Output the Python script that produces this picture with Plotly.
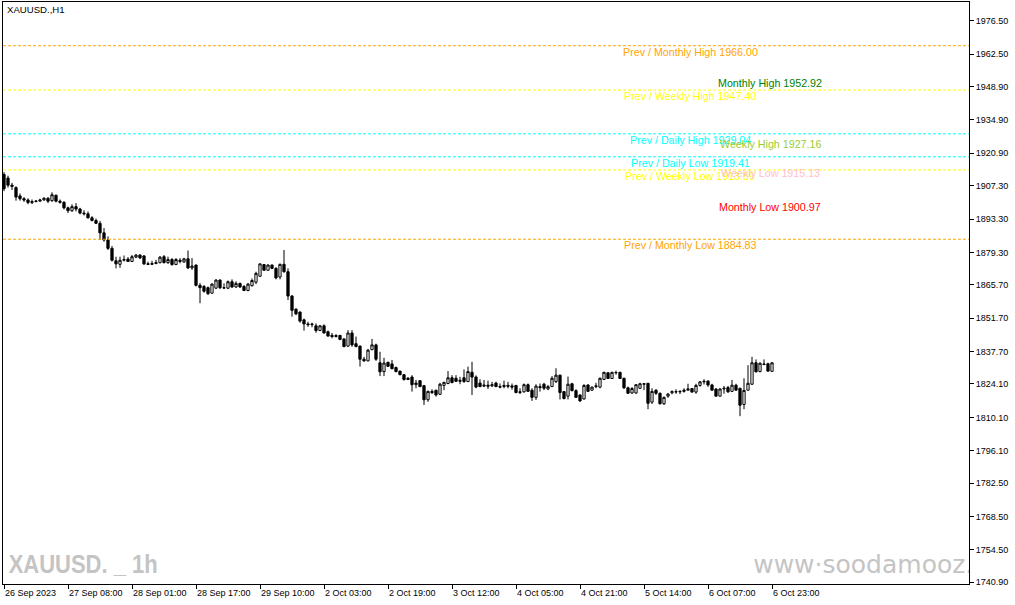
import plotly.graph_objects as go

# ---------------- data ----------------
opens = [1912.0, 1910.5, 1907.5, 1906.5, 1903.0, 1901.8, 1901.3, 1900.2, 1900.6, 1900.8,
         1901.3, 1902.0, 1901.0, 1903.3, 1900.8, 1900.3, 1898.0, 1896.8, 1898.5, 1897.5,
         1895.8, 1895.5, 1893.8, 1892.7, 1891.5, 1887.5, 1884.5, 1881.0, 1875.8, 1874.3,
         1876.0, 1876.5, 1875.5, 1877.3, 1878.2, 1877.8, 1874.5, 1874.3, 1874.6, 1875.0,
         1877.5, 1875.0, 1876.3, 1874.2, 1876.0, 1875.3, 1876.6, 1872.8, 1874.0, 1865.5,
         1865.0, 1864.5, 1862.2, 1864.3, 1867.7, 1864.5, 1864.3, 1867.0, 1864.8, 1866.3,
         1865.0, 1863.3, 1865.3, 1866.8, 1869.3, 1874.2, 1871.8, 1874.0, 1872.6, 1869.0,
         1874.3, 1871.2, 1861.0, 1855.5, 1854.3, 1851.0, 1849.3, 1849.0, 1848.5, 1846.5,
         1848.5, 1846.0, 1844.5, 1844.0, 1844.5, 1843.0, 1840.0, 1845.5, 1841.0, 1840.0,
         1834.5, 1833.8, 1838.5, 1840.5, 1833.0, 1829.3, 1833.2, 1832.5, 1831.0, 1829.5,
         1828.0, 1826.5, 1827.0, 1823.8, 1825.5, 1823.4, 1817.5, 1821.0, 1821.5, 1819.8,
         1823.5, 1824.3, 1826.7, 1826.5, 1825.2, 1826.7, 1825.1, 1829.0, 1827.0, 1824.5,
         1823.2, 1823.6, 1823.3, 1824.5, 1823.0, 1823.0, 1823.5, 1823.3, 1823.5, 1820.5,
         1820.8, 1823.8, 1821.5, 1818.5, 1823.0, 1824.0, 1822.0, 1823.0, 1825.1, 1827.8,
         1820.9, 1819.0, 1824.2, 1821.3, 1819.5, 1817.8, 1823.7, 1821.5, 1823.0, 1822.8,
         1826.0, 1828.8, 1826.4, 1828.8, 1829.0, 1826.5, 1822.5, 1820.3, 1820.3, 1822.3,
         1824.0, 1824.4, 1816.5, 1821.5, 1820.2, 1815.8, 1819.0, 1820.4, 1820.9, 1820.8,
         1821.0, 1821.5, 1822.2, 1820.7, 1823.5, 1825.0, 1825.3, 1823.7, 1822.0, 1819.0,
         1822.0, 1822.6, 1821.0, 1823.6, 1822.3, 1815.5, 1821.5, 1824.0, 1833.0, 1829.3,
         1832.5, 1832.6, 1829.4]
highs = [1913.0, 1911.5, 1908.5, 1907.0, 1904.0, 1902.5, 1902.0, 1901.5, 1901.3, 1901.8,
         1902.5, 1902.5, 1904.5, 1903.5, 1901.5, 1900.8, 1898.5, 1899.5, 1900.0, 1898.0,
         1897.0, 1896.5, 1894.5, 1893.5, 1892.5, 1889.5, 1886.0, 1882.0, 1877.5, 1877.5,
         1878.0, 1877.3, 1878.2, 1878.6, 1878.5, 1878.2, 1875.4, 1875.8, 1876.2, 1877.8,
         1878.2, 1877.5, 1876.9, 1876.9, 1876.9, 1877.0, 1880.1, 1876.9, 1874.2, 1866.4,
         1865.6, 1865.0, 1866.4, 1868.0, 1868.0, 1866.3, 1867.5, 1868.0, 1867.2, 1866.6,
         1865.6, 1866.5, 1868.4, 1871.2, 1874.6, 1874.3, 1874.3, 1874.2, 1873.1, 1874.6,
         1880.3, 1872.6, 1861.4, 1855.8, 1854.5, 1851.5, 1850.2, 1849.8, 1849.5, 1848.8,
         1849.1, 1846.5, 1845.5, 1845.0, 1844.6, 1843.3, 1846.7, 1846.7, 1844.0, 1840.2,
         1835.5, 1838.8, 1843.0, 1841.0, 1837.6, 1835.1, 1833.4, 1834.2, 1831.4, 1829.6,
         1828.2, 1827.0, 1827.8, 1825.8, 1825.6, 1823.7, 1821.3, 1821.9, 1821.6, 1824.6,
         1825.0, 1829.5, 1827.8, 1827.8, 1827.1, 1830.2, 1831.4, 1833.4, 1827.7, 1826.1,
         1825.8, 1825.5, 1825.0, 1825.0, 1824.3, 1825.5, 1825.0, 1824.3, 1823.7, 1822.3,
         1824.3, 1824.3, 1822.3, 1824.0, 1824.3, 1824.6, 1823.7, 1827.4, 1830.7, 1828.0,
         1821.0, 1827.2, 1824.6, 1821.9, 1819.7, 1824.0, 1823.9, 1823.0, 1824.6, 1826.8,
         1829.2, 1829.0, 1829.2, 1829.7, 1829.2, 1826.7, 1823.0, 1822.8, 1824.0, 1824.6,
         1824.5, 1824.5, 1822.3, 1821.9, 1820.5, 1818.8, 1820.3, 1821.4, 1821.9, 1821.4,
         1822.3, 1824.2, 1822.3, 1824.2, 1825.3, 1826.1, 1825.6, 1824.2, 1822.3, 1822.3,
         1823.3, 1823.3, 1825.8, 1824.2, 1822.5, 1826.5, 1832.0, 1835.5, 1834.4, 1833.2,
         1834.4, 1833.0, 1833.2]
lows = [1905.0, 1906.5, 1905.5, 1901.0, 1901.0, 1900.5, 1899.5, 1899.6, 1900.4, 1900.6,
        1901.0, 1900.0, 1900.5, 1900.3, 1899.8, 1897.3, 1895.8, 1896.3, 1896.5, 1895.3,
        1894.8, 1893.5, 1892.3, 1891.2, 1884.5, 1883.8, 1880.3, 1875.5, 1872.6, 1872.8,
        1875.5, 1875.3, 1875.3, 1876.9, 1876.5, 1874.0, 1874.0, 1874.0, 1874.4, 1874.7,
        1874.7, 1874.5, 1873.7, 1874.0, 1874.7, 1875.0, 1872.3, 1872.0, 1865.0, 1858.0,
        1862.4, 1861.4, 1862.0, 1864.0, 1863.9, 1863.9, 1863.9, 1864.4, 1864.4, 1864.4,
        1863.2, 1863.0, 1865.0, 1866.0, 1869.0, 1871.6, 1871.6, 1872.3, 1868.0, 1868.0,
        1870.8, 1859.3, 1852.3, 1853.0, 1849.8, 1846.5, 1848.1, 1847.9, 1845.6, 1846.4,
        1845.3, 1844.0, 1843.3, 1843.6, 1842.5, 1839.5, 1839.7, 1839.7, 1839.5, 1831.4,
        1833.4, 1833.6, 1838.3, 1833.8, 1827.4, 1827.4, 1831.4, 1830.3, 1829.0, 1827.8,
        1825.5, 1825.7, 1820.9, 1822.3, 1822.8, 1815.3, 1816.6, 1819.9, 1818.8, 1819.5,
        1821.5, 1824.0, 1824.4, 1825.0, 1824.0, 1824.6, 1825.0, 1819.5, 1822.3, 1822.8,
        1822.8, 1822.0, 1822.8, 1822.8, 1822.3, 1822.3, 1822.3, 1821.7, 1820.2, 1819.9,
        1820.5, 1820.9, 1817.0, 1817.4, 1820.9, 1821.5, 1821.5, 1822.9, 1824.5, 1817.6,
        1817.6, 1817.6, 1821.0, 1818.2, 1816.6, 1817.6, 1820.8, 1821.3, 1822.3, 1822.3,
        1825.9, 1826.2, 1826.2, 1828.0, 1826.2, 1822.0, 1820.0, 1820.0, 1820.0, 1822.0,
        1821.5, 1813.5, 1815.7, 1819.5, 1815.5, 1815.3, 1818.3, 1819.8, 1820.0, 1819.9,
        1820.5, 1821.4, 1820.5, 1820.0, 1823.0, 1823.9, 1822.9, 1821.4, 1818.8, 1818.9,
        1820.0, 1820.4, 1820.9, 1821.4, 1810.6, 1813.5, 1821.4, 1823.7, 1829.0, 1829.0,
        1832.0, 1829.2, 1829.2]
closes = [1906.0, 1907.5, 1907.0, 1902.5, 1901.8, 1901.3, 1900.2, 1900.6, 1900.8, 1901.3,
          1902.0, 1900.8, 1903.5, 1900.8, 1900.3, 1898.0, 1896.8, 1898.5, 1897.5, 1895.8,
          1895.5, 1893.8, 1892.7, 1891.5, 1887.5, 1884.5, 1881.0, 1876.0, 1874.5, 1876.0,
          1876.3, 1875.5, 1877.5, 1878.2, 1877.0, 1874.5, 1874.3, 1874.6, 1875.0, 1877.3,
          1875.0, 1876.3, 1874.2, 1876.3, 1875.5, 1876.6, 1872.8, 1873.6, 1865.5, 1864.5,
          1863.0, 1862.0, 1866.0, 1867.7, 1864.5, 1864.4, 1867.0, 1864.8, 1866.3, 1864.8,
          1863.3, 1866.0, 1867.5, 1870.5, 1874.5, 1871.8, 1874.0, 1872.6, 1868.6, 1874.3,
          1871.2, 1861.0, 1855.0, 1853.5, 1850.5, 1849.3, 1849.0, 1849.2, 1846.5, 1848.5,
          1845.5, 1844.2, 1844.0, 1844.4, 1842.8, 1839.8, 1845.5, 1840.5, 1839.8, 1834.5,
          1833.8, 1838.3, 1840.5, 1834.5, 1829.2, 1832.9, 1831.5, 1830.5, 1829.3, 1828.0,
          1826.0, 1826.0, 1823.8, 1824.5, 1823.0, 1817.5, 1821.0, 1820.5, 1819.5, 1824.0,
          1824.8, 1826.7, 1824.7, 1825.2, 1825.6, 1825.1, 1829.3, 1827.0, 1822.8, 1823.0,
          1823.6, 1823.2, 1823.8, 1823.0, 1822.8, 1823.5, 1823.2, 1822.8, 1820.5, 1820.8,
          1823.8, 1821.0, 1818.5, 1823.2, 1822.6, 1822.3, 1823.0, 1826.5, 1827.8, 1820.5,
          1818.0, 1824.0, 1821.3, 1818.5, 1817.0, 1823.5, 1821.0, 1822.8, 1823.3, 1826.5,
          1829.0, 1826.4, 1829.0, 1828.9, 1826.4, 1822.5, 1820.2, 1822.2, 1823.8, 1824.2,
          1824.2, 1816.0, 1821.0, 1820.2, 1815.8, 1818.5, 1819.9, 1820.9, 1820.8, 1821.0,
          1821.5, 1822.0, 1820.7, 1823.5, 1825.0, 1825.2, 1823.7, 1821.5, 1819.0, 1822.0,
          1822.3, 1820.8, 1823.6, 1821.5, 1815.2, 1821.4, 1824.4, 1833.0, 1829.2, 1832.8,
          1832.3, 1829.5, 1833.0]
bar_index = list(range(len(closes)))

x_tick_bars = [0, 16, 32, 48, 64, 80, 96, 112, 128, 144, 160, 176, 192]
x_tick_text = ["26 Sep 2023", "27 Sep 08:00", "28 Sep 01:00", "28 Sep 17:00",
               "29 Sep 10:00", "2 Oct 03:00", "2 Oct 19:00", "3 Oct 12:00",
               "4 Oct 05:00", "4 Oct 21:00", "5 Oct 14:00", "6 Oct 07:00", "6 Oct 23:00"]
y_tick_vals = [1976.50, 1962.50, 1948.90, 1934.90, 1920.90, 1907.30, 1893.30, 1879.30,
               1865.70, 1851.70, 1837.70, 1824.10, 1810.10, 1796.10, 1782.50, 1768.50,
               1754.50, 1740.90]

prev_names = ["Prev / Monthly High", "Prev / Weekly High", "Prev / Daily High",
              "Prev / Daily Low", "Prev / Weekly Low", "Prev / Monthly Low"]
prev_values = [1966.00, 1947.40, 1929.04, 1919.41, 1913.89, 1884.83]
prev_colors = ["#FFA500", "#FFFF00", "#00FFFF", "#00FFFF", "#FFFF00", "#FFA500"]

cur_names = ["Monthly High", "Weekly High", "Weekly Low", "Monthly Low"]
cur_values = [1952.92, 1927.16, 1915.13, 1900.97]
cur_colors = ["#008000", "#9ACD32", "#FFC0CB", "#FF0000"]

symbol_title = "XAUUSD.,H1"
watermark_left = "XAUUSD. _ 1h"
watermark_right = "www\u00b7soodamooz.com"

# ---------------- layout geometry ----------------
W, H = 1015, 605
ML, MR, MT, MB = 3, 46, 2, 21
PW = W - ML - MR
PH = H - MT - MB


def px_x(p):
    return (p - ML) / PW


def px_y(p):
    return 1 - (p - MT) / PH


fig = go.Figure()
fig.add_trace(go.Candlestick(
    x=bar_index, open=opens, high=highs, low=lows, close=closes,
    increasing=dict(line=dict(color="black", width=1), fillcolor="white"),
    decreasing=dict(line=dict(color="black", width=1), fillcolor="black"),
    whiskerwidth=0, hoverinfo="skip",
))

# watermark (clipped at the plot edge like the original)
fig.add_trace(go.Scatter(
    x=[187.3], y=[1747.6], mode="text", text=[watermark_right],
    textposition="middle right", cliponaxis=True, hoverinfo="skip",
    textfont=dict(family="DejaVu Sans", size=25, color="#C4C4C4"),
))

shapes = []
annotations = []
for name, val, col in zip(prev_names, prev_values, prev_colors):
    shapes.append(dict(type="line", xref="paper", x0=0, x1=1, yref="y", y0=val, y1=val,
                       line=dict(color=col, width=1, dash="3px,2px"), layer="above"))
    annotations.append(dict(xref="paper", x=px_x(690), yref="y", y=val, yshift=2,
                            text=f"{name} {val:.2f}", showarrow=False,
                            xanchor="center", yanchor="top",
                            font=dict(family="Liberation Sans", size=10.7, color=col)))
for name, val, col in zip(cur_names, cur_values, cur_colors):
    annotations.append(dict(xref="paper", x=px_x(770), yref="y", y=val, yshift=2,
                            text=f"{name} {val:.2f}", showarrow=False,
                            xanchor="center", yanchor="top",
                            font=dict(family="Liberation Sans", size=10.7, color=col)))

annotations.append(dict(xref="paper", yref="paper", x=px_x(5), y=px_y(10),
                        text=symbol_title, showarrow=False, xanchor="left", yanchor="middle",
                        font=dict(family="Liberation Sans", size=9.6, color="black")))
annotations.append(dict(xref="paper", yref="paper", x=px_x(82.5), y=px_y(564),
                        text=watermark_left, showarrow=False,
                        xanchor="center", yanchor="middle",
                        font=dict(family="Liberation Sans", size=26, weight="bold",
                                  color="#C4C4C4")))

fig.update_layout(
    width=W, height=H,
    margin=dict(l=ML, r=MR, t=MT, b=MB),
    paper_bgcolor="white", plot_bgcolor="white",
    showlegend=False, hovermode=False, boxgap=0.2,
    shapes=shapes, annotations=annotations,
    xaxis=dict(
        range=[-0.25, 241.25], rangeslider=dict(visible=False),
        tickmode="array", tickvals=x_tick_bars, ticktext=x_tick_text,
        ticks="outside", ticklen=4, tickcolor="black",
        ticklabelposition="outside right",
        showgrid=False, zeroline=False,
        showline=True, linecolor="black", linewidth=1, mirror=True,
        tickfont=dict(family="Liberation Sans", size=9, color="black"),
    ),
    yaxis=dict(
        side="right", range=[1740.19, 1984.35],
        tickmode="array", tickvals=y_tick_vals,
        ticktext=[f"{v:.2f}" for v in y_tick_vals],
        ticks="outside", ticklen=4, tickcolor="black",
        showgrid=False, zeroline=False,
        showline=True, linecolor="black", linewidth=1, mirror=True,
        tickfont=dict(family="Liberation Sans", size=9, color="black"),
    ),
)

post_js = """
document.body.style.margin = '0';
document.body.style.overflow = 'hidden';
var gd = document.getElementById('{plot_id}');
function squeezeWatermark() {
  gd.querySelectorAll('text.annotation-text').forEach(function (t) {
    if (t.textContent === 'XAUUSD. _ 1h') {
      t.setAttribute('textLength', '149');
      t.setAttribute('lengthAdjust', 'spacingAndGlyphs');
    }
  });
}
squeezeWatermark();
if (gd.on) { gd.on('plotly_afterplot', squeezeWatermark); }
"""

fig.write_html("out.html", post_script=post_js,
               config={"displayModeBar": False, "staticPlot": True})
